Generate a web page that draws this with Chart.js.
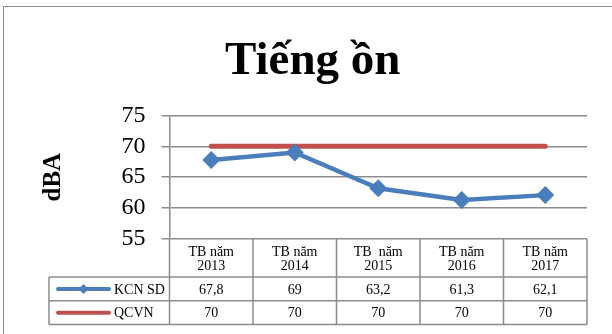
<!DOCTYPE html>
<html>
<head>
<meta charset="utf-8">
<script src="https://cdn.jsdelivr.net/npm/chart.js@4"></script>
<style>
    html, body { margin: 0; padding: 0; background: #fff; overflow: hidden; }
    #wrap { position: relative; width: 612px; height: 334px; }
    #frame {
        position: absolute; left: 3px; top: 6px; width: 700px; height: 400px;
        border-left: 1.5px solid #8c8c8c; border-top: 1.5px solid #8c8c8c;
    }
    canvas { position: absolute; left: 0; top: 0; }
</style>
</head>
<body>
<div id="wrap">
    <div id="frame"></div>
    <canvas id="noiseChart" width="612" height="334"></canvas>
</div>
<script>
// Noise level chart with data table underneath

const years = ['2013', '2014', '2015', '2016', '2017'];
const headerWords = ['TB năm', 'TB năm', 'TB  năm', 'TB năm', 'TB năm'];
const kcnSD = [67.8, 69, 63.2, 61.3, 62.1];
const qcvn = [70, 70, 70, 70, 70];
const yMin = 55;
const yMax = 75;
const yStep = 5;

const SERIF = '"Liberation Serif", "Times New Roman", serif';
const GRID = '#8c8c8c';

// Table rows under the plot: header (category labels), then one row per series
const dataTable = {
    id: 'dataTable',
    afterDraw(chart) {
        const ctx = chart.ctx;
        const area = chart.chartArea;
        const n = chart.data.labels.length;
        const colW = (area.right - area.left) / n;
        const legendLeft = 49;
        const headBottom = area.bottom + 38;
        const rowH = 23.8;
        const rowBottoms = [headBottom + rowH, headBottom + 2 * rowH];
        const tableBottom = rowBottoms[1];

        ctx.save();
        ctx.strokeStyle = GRID;
        ctx.lineWidth = 1.5;
        ctx.beginPath();
        // horizontal rules
        [headBottom].concat(rowBottoms).forEach(y => {
            ctx.moveTo(legendLeft, y);
            ctx.lineTo(area.right, y);
        });
        // column separators
        for (let i = 0; i <= n; i++) {
            const x = area.left + i * colW;
            ctx.moveTo(x, area.bottom);
            ctx.lineTo(x, tableBottom);
        }
        ctx.moveTo(legendLeft, headBottom);
        ctx.lineTo(legendLeft, tableBottom);
        ctx.stroke();

        ctx.font = '14px ' + SERIF;
        ctx.fillStyle = '#000';
        ctx.textBaseline = 'middle';

        chart.data.datasets.forEach((ds, r) => {
            const yMid = rowBottoms[r] - rowH / 2;
            // legend key
            ctx.strokeStyle = ds.borderColor;
            ctx.lineWidth = 4;
            ctx.lineCap = 'round';
            ctx.beginPath();
            ctx.moveTo(58, yMid);
            ctx.lineTo(109, yMid);
            ctx.stroke();
            if (ds.pointRadius > 0) {
                ctx.fillStyle = ds.borderColor;
                ctx.beginPath();
                ctx.moveTo(83.5 - 5, yMid);
                ctx.lineTo(83.5, yMid - 5);
                ctx.lineTo(83.5 + 5, yMid);
                ctx.lineTo(83.5, yMid + 5);
                ctx.closePath();
                ctx.fill();
            }
            ctx.fillStyle = '#000';
            ctx.textAlign = 'left';
            ctx.fillText(ds.label, 114, yMid + 1);

            // values
            ctx.textAlign = 'center';
            ds.data.forEach((v, i) => {
                const x = area.left + (i + 0.5) * colW;
                ctx.fillText(String(v).replace('.', ','), x, yMid + 1);
            });
        });
        ctx.restore();
    }
};

new Chart(document.getElementById('noiseChart'), {
    type: 'line',
    data: {
        labels: years.map((y, i) => [headerWords[i], y]),
        datasets: [
            {
                label: 'KCN SD',
                data: kcnSD,
                borderColor: '#4a7ebb',
                backgroundColor: '#4a7ebb',
                borderWidth: 4.5,
                pointStyle: 'rectRot',
                pointRadius: 9,
                pointHoverRadius: 9,
                pointBorderWidth: 0,
                pointBackgroundColor: '#4a7ebb',
                tension: 0
            },
            {
                label: 'QCVN',
                data: qcvn,
                borderColor: '#c0504d',
                backgroundColor: '#c0504d',
                borderWidth: 5,
                borderCapStyle: 'round',
                pointRadius: 0,
                pointHoverRadius: 0,
                tension: 0
            }
        ]
    },
    options: {
        responsive: false,
        animation: false,
        layout: { padding: { left: 38.5, right: 25, top: 0, bottom: 55 } },
        plugins: {
            legend: { display: false },
            tooltip: { enabled: false },
            title: {
                display: true,
                text: 'Tiếng ồn',
                color: '#000',
                font: { family: SERIF, size: 47, weight: 'bold', lineHeight: 1.2 },
                padding: { top: 34, bottom: 25 }
            }
        },
        scales: {
            x: {
                offset: true,
                grid: { display: false, drawTicks: false },
                border: { display: false },
                ticks: {
                    color: '#000',
                    padding: 6,
                    maxRotation: 0,
                    font: { family: SERIF, size: 14, lineHeight: 1.0 }
                }
            },
            y: {
                min: yMin,
                max: yMax,
                ticks: {
                    stepSize: yStep,
                    autoSkip: false,
                    color: '#000',
                    padding: 16,
                    font: { family: SERIF, size: 24 }
                },
                grid: { color: GRID, lineWidth: 1.5, tickLength: 8, drawTicks: true },
                border: { display: true, color: GRID, width: 1.5 },
                title: {
                    display: true,
                    text: 'dBA',
                    color: '#000',
                    font: { family: SERIF, size: 25, weight: 'bold', lineHeight: 1.2 },
                    padding: { top: 0, bottom: 37 }
                }
            }
        }
    },
    plugins: [dataTable]
});
</script>
</body>
</html>
